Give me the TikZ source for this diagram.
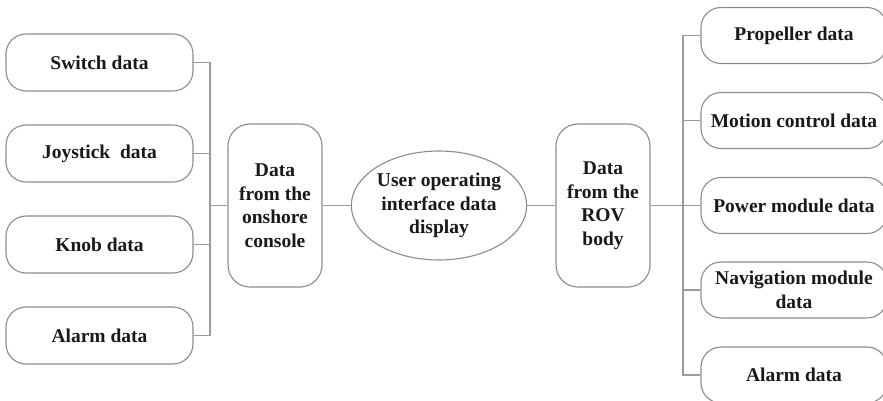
\documentclass[tikz,border=0pt]{standalone}
\usepackage{fontspec}
\setmainfont{Liberation Serif}
\usetikzlibrary{shapes.geometric}
\definecolor{edgegray}{RGB}{140,140,140}
\definecolor{linegray}{RGB}{155,155,155}
\definecolor{inkdark}{RGB}{25,25,25}
\tikzset{
  leafbox/.style={draw=edgegray, line width=1.1pt, rounded corners=20pt,
    minimum width=187pt, minimum height=57pt, inner sep=0pt,
    font=\fontsize{19.5}{23.5}\selectfont\bfseries, text=inkdark, align=center},
  rightbox/.style={leafbox, minimum width=186pt, minimum height=56pt},
  hubbox/.style={draw=edgegray, line width=1.1pt, rounded corners=22pt,
    minimum width=94pt, minimum height=163pt, inner sep=0pt,
    font=\fontsize{19.5}{23.5}\selectfont\bfseries, text=inkdark, align=center},
  centre/.style={draw=edgegray, line width=1.1pt, ellipse,
    minimum width=166pt, minimum height=109pt, inner sep=0pt,
    font=\fontsize{19.5}{23.5}\selectfont\bfseries, text=inkdark, align=center},
  wire/.style={draw=linegray, line width=1.3pt}
}
\begin{document}
\begin{tikzpicture}[x=1pt,y=-1pt]
  \useasboundingbox (0,0) rectangle (883,401);
  \clip (0,0) rectangle (883,401);
  \fill[white] (0,0) rectangle (883,401);

  % left-hand sources
  \node[leafbox] (sw) at (99.5,62.5)  {Switch data};
  \node[leafbox] (js) at (99.5,153.5) {Joystick\ \ data};
  \node[leafbox] (kn) at (99.5,244.5) {Knob data};
  \node[leafbox] (al) at (99.5,335.5) {Alarm data};

  % hubs and centre
  \node[hubbox] (con) at (275,205.5) {Data\\from the\\onshore\\console};
  \node[centre] (ui)  at (439,205.5) {User operating\\interface data\\display};
  \node[hubbox] (rov) at (603,205.5) {Data\\from the\\ROV\\body};

  % right-hand sources
  \node[rightbox] (pr) at (794,35.5)  {Propeller data};
  \node[rightbox] (mc) at (794,120.5) {Motion control data};
  \node[rightbox] (pm) at (794,205.5) {Power module data};
  \node[rightbox] (nm) at (794,290) {Navigation module\\data};
  \node[rightbox] (ar) at (794,375) {Alarm data};

  % bus positions
  \coordinate (lbus) at (210,0);
  \coordinate (rbus) at (683,0);

  % left bus
  \draw[wire] (sw.east) -- (sw.east -| lbus) -- (al.east -| lbus) -- (al.east);
  \draw[wire] (js.east) -- (js.east -| lbus);
  \draw[wire] (kn.east) -- (kn.east -| lbus);
  \draw[wire] (con.west -| lbus) -- (con.west);

  % centre links
  \draw[wire] (con.east) -- (ui.west);
  \draw[wire] (ui.east) -- (rov.west);

  % right bus
  \draw[wire] (rov.east) -- (rov.east -| rbus);
  \draw[wire] (pr.west) -- (pr.west -| rbus) -- (ar.west -| rbus) -- (ar.west);
  \draw[wire] (mc.west) -- (mc.west -| rbus);
  \draw[wire] (pm.west) -- (pm.west -| rbus);
  \draw[wire] (nm.west) -- (nm.west -| rbus);
\end{tikzpicture}
\end{document}
